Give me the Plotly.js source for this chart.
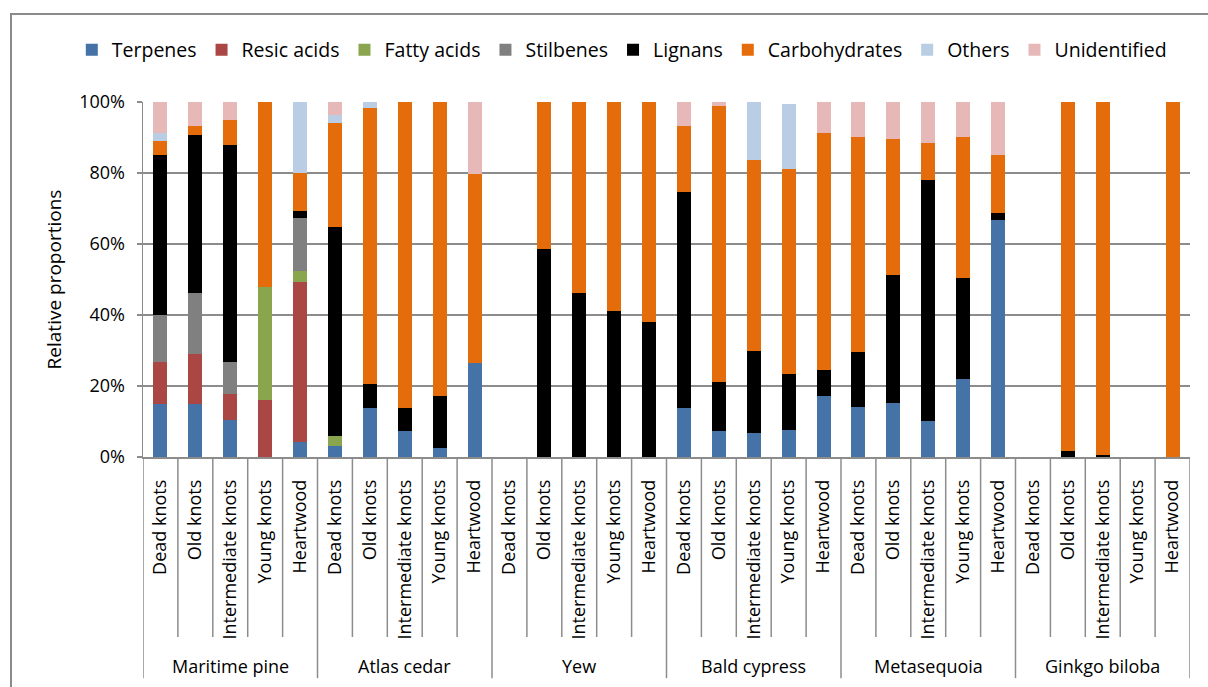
<!DOCTYPE html>
<html>
<head>
<meta charset="utf-8">
<script src="https://cdn.plot.ly/plotly-3.0.1.min.js"></script>
<style>
  html, body { margin: 0; padding: 0; background: #fff; }
  #wrap { position: relative; width: 1208px; height: 687px; }
  #chart { width: 1208px; height: 687px; }
  #frame { position: absolute; left: 10px; top: 13px; width: 1198px; height: 674px;
           border-left: 2px solid #8a8a8a; border-top: 2px solid #8a8a8a; pointer-events: none; box-sizing: border-box; }
</style>
</head>
<body>
<div id="wrap"><div id="chart"></div><div id="frame"></div></div>
<script>
// Groups and categories
const groups = ["Maritime pine", "Atlas cedar", "Yew", "Bald cypress", "Metasequoia", "Ginkgo biloba"];
const tissues = ["Dead knots", "Old knots", "Intermediate knots", "Young knots", "Heartwood"];

// Series values (% of total), 30 bars: group by group, tissue by tissue
const terpenes      = [14.8,14.8,10.4,0,4.1,   3.2,13.9,7.4,2.6,26.4,   0,0,0,0,0,          13.7,7.3,6.8,7.6,17.2,   14.1,15.2,10.1,22.0,66.8,  0,0,0,0,0];
const resicAcids    = [11.9,14.1,7.3,16.0,45.3, 0,0,0,0,0,              0,0,0,0,0,          0,0,0,0,0,               0,0,0,0,0,                 0,0,0,0,0];
const fattyAcids    = [0,0,0,31.8,3.1,         2.7,0,0,0,0,              0,0,0,0,0,          0,0,0,0,0,               0,0,0,0,0,                 0,0,0,0,0];
const stilbenes     = [13.3,17.3,9.2,0,14.9,   0,0,0,0,0,                0,0,0,0,0,          0,0,0,0,0,               0,0,0,0,0,                 0,0,0,0,0];
const lignans       = [45.1,44.5,61.1,0,2.0,   58.8,6.8,6.5,14.7,0,      0,58.6,46.2,41.1,38.0, 60.9,13.7,23.1,15.8,7.3, 15.4,36.1,67.9,28.5,1.9,   0,1.7,0.5,0,0];
const carbohydrates = [3.9,2.5,6.9,52.2,10.7,  29.5,77.7,86.1,82.7,53.4, 0,41.4,53.8,58.9,62.0, 18.6,77.9,53.8,57.8,66.9, 60.6,38.4,10.4,39.6,16.5, 0,98.3,99.5,0,100];
const others        = [2.2,0,0,0,19.9,         2.0,1.6,0,0,0,            0,0,0,0,0,          0,0,16.3,18.3,0,         0,0,0,0,0,                 0,0,0,0,0];
const unidentified  = [8.8,6.8,5.1,0,0,        3.8,0,0,0,20.2,           0,0,0,0,0,          6.8,1.1,0,0,8.6,         9.9,10.3,11.6,9.9,14.8,    0,0,0,0,0];

const seriesNames = ["Terpenes", "Resic acids", "Fatty acids", "Stilbenes", "Lignans", "Carbohydrates", "Others", "Unidentified"];
const seriesData = [terpenes, resicAcids, fattyAcids, stilbenes, lignans, carbohydrates, others, unidentified];
const seriesColors = ["#4572A7", "#AA4643", "#89A54E", "#808080", "#000000", "#E46C0A", "#B9CDE5", "#E6B9B8"];

// Y axis ticks
const yTickVals = [0, 20, 40, 60, 80, 100];
const yTickText = ["0%", "20%", "40%", "60%", "80%", "100%"];

const FONT = "Open Sans, Noto Sans, DejaVu Sans, sans-serif";
const nG = groups.length, nT = tissues.length, N = nG * nT;
const xIdx = [], tickText = [];
for (let g = 0; g < nG; g++) for (let t = 0; t < nT; t++) { xIdx.push(g * nT + t); tickText.push(tissues[t]); }

const traces = seriesNames.map((name, i) => ({
  type: "bar", name: name, x: xIdx, y: seriesData[i], width: 0.4,
  marker: { color: seriesColors[i], line: { width: 0 } }, hoverinfo: "skip"
}));

// Divider lines under the category axis and group labels
const shapes = [];
const annotations = [];
const GRID = "#8c8c8c";
for (let b = 0; b <= N; b++) {
  const isGroup = (b % nT === 0);
  shapes.push({ type: "line", xref: "x", yref: "paper", x0: b - 0.5, x1: b - 0.5, y0: 0, y1: isGroup ? -0.623 : -0.507,
    line: { color: GRID, width: 1.5 } });
}
for (let g = 0; g < nG; g++) {
  annotations.push({ xref: "x", yref: "paper", x: g * nT + (nT - 1) / 2, y: -0.589, text: groups[g], showarrow: false,
    xanchor: "center", yanchor: "middle", font: { family: FONT, size: 18, color: "#000" } });
}

const layout = {
  width: 1208, height: 687,
  margin: { l: 143, r: 18, t: 102, b: 230 },
  paper_bgcolor: "#fff", plot_bgcolor: "#fff",
  barmode: "stack", bargap: 0.6,
  font: { family: FONT, size: 18, color: "#000" },
  showlegend: true,
  legend: { orientation: "h", xref: "paper", yref: "paper", x: -0.068, y: 1.146, xanchor: "left", yanchor: "middle",
    font: { family: FONT, size: 19.5, color: "#000" }, traceorder: "normal", itemclick: false, itemdoubleclick: false },
  xaxis: { type: "linear", range: [-0.5, N - 0.5], tickmode: "array", tickvals: xIdx, ticktext: tickText, tickangle: -90,
    ticks: "", showgrid: false, zeroline: false, showline: true, linecolor: GRID, linewidth: 1.5, ticklabelstandoff: 14,
    tickfont: { family: FONT, size: 18, color: "#000" }, fixedrange: true },
  yaxis: { range: [0, 100], tickmode: "array", tickvals: yTickVals, ticktext: yTickText,
    ticks: "outside", ticklen: 5, tickcolor: GRID, tickwidth: 1.5, showgrid: true, gridcolor: GRID, gridwidth: 1.5,
    zeroline: false, showline: true, linecolor: GRID, linewidth: 1.5, ticklabelstandoff: 8,
    tickfont: { family: FONT, size: 18, color: "#000" },
    title: { text: "Relative proportions", font: { family: FONT, size: 19, color: "#000" }, standoff: 12 }, fixedrange: true },
  shapes: shapes,
  annotations: annotations
};

Plotly.newPlot("chart", traces, layout, { displayModeBar: false, staticPlot: true });
</script>
</body>
</html>
